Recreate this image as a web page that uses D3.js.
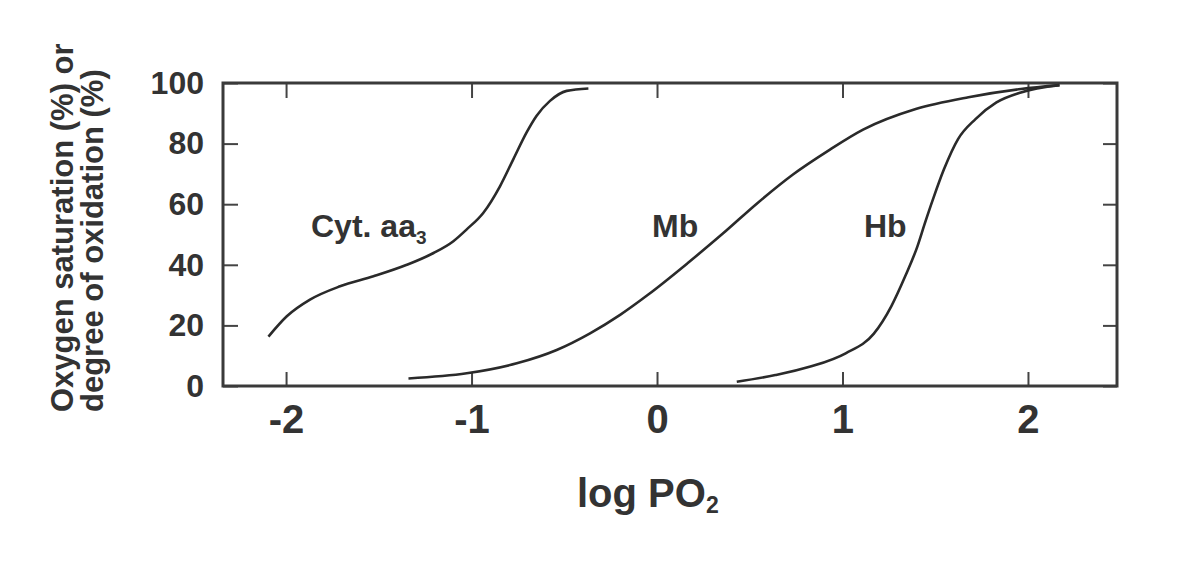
<!doctype html>
<html>
<head>
    <meta charset="utf-8">
    <style>
        body { margin: 0; background: #fff; }
        text { font-family: "Liberation Sans", Arial, sans-serif; font-weight: bold; fill: #333; }
        .curve { fill: none; stroke: #2a2a2a; stroke-width: 2.6; }
        .tick line { stroke: #444; stroke-width: 2; }
    </style>
    <script src="https://d3js.org/d3.v7.min.js"></script>
</head>
<body>
<svg width="1200" height="564"></svg>
<script>
// curves (log PO2 vs % saturation)
var cytX = [-2.095, -1.996, -1.871, -1.709, -1.529, -1.349, -1.205, -1.098, -1.026, -0.936, -0.846, -0.775, -0.703, -0.649, -0.577, -0.487, -0.370];
var cytY = [16.3, 23, 28.5, 32.9, 36.2, 40, 43.9, 47.8, 51.7, 57.2, 66, 74.8, 83.7, 89.2, 94.1, 97.4, 98.2];

var mbX = [-1.34, -1.026, -0.756, -0.541, -0.361, -0.199, -0.047, 0.166, 0.355, 0.544, 0.733, 0.922, 1.111, 1.395, 1.679, 1.962, 2.17];
var mbY = [2.5, 4.2, 7.5, 11.9, 17.4, 23.5, 30.2, 40.6, 50.3, 60.5, 69.8, 77.6, 84.6, 91.4, 95.3, 98, 99.3];

var hbX = [0.43, 0.638, 0.827, 1.017, 1.168, 1.263, 1.338, 1.404, 1.443, 1.49, 1.547, 1.623, 1.717, 1.83, 1.962, 2.17];
var hbY = [1.4, 3.6, 6.4, 10.8, 17.2, 26.3, 36.2, 46.1, 53.5, 62, 71.5, 81.5, 88.1, 93.6, 96.9, 99.3];

var xTicks = [-2, -1, 0, 1, 2];
var yTicks = [0, 20, 40, 60, 80, 100];

var svg = d3.select("svg");

var xScale = d3.scaleLinear().domain([-2.34, 2.48]).range([223, 1117]),
    yScale = d3.scaleLinear().domain([0, 100]).range([386, 83]);

function zip(xs, ys) {
    return xs.map(function(d, i) { return [d, ys[i]]; });
}

var line = d3.line()
    .x(function(d) { return xScale(d[0]); })
    .y(function(d) { return yScale(d[1]); })
    .curve(d3.curveMonotoneX);

var plain = function(d) { return String(d); };

// axes, ticks pointing inward
svg.append("g")
    .attr("transform", "translate(0," + yScale(0) + ")")
    .call(d3.axisBottom(xScale).tickValues(xTicks).tickFormat(plain).tickSize(-14).tickSizeOuter(0).tickPadding(19))
    .call(function(g) { g.select(".domain").remove(); })
    .selectAll("text").style("font-size", "40px").attr("fill", "#333");

svg.append("g")
    .attr("transform", "translate(0," + yScale(100) + ")")
    .call(d3.axisTop(xScale).tickValues(xTicks).tickSize(-15).tickSizeOuter(0).tickFormat(""))
    .call(function(g) { g.select(".domain").remove(); });

svg.append("g")
    .attr("transform", "translate(" + xScale.range()[0] + ",0)")
    .call(d3.axisLeft(yScale).tickValues(yTicks).tickFormat(plain).tickSize(-15).tickSizeOuter(0).tickPadding(19))
    .call(function(g) { g.select(".domain").remove(); })
    .selectAll("text").style("font-size", "32px").attr("fill", "#333");

svg.append("g")
    .attr("transform", "translate(" + xScale.range()[1] + ",0)")
    .call(d3.axisRight(yScale).tickValues(yTicks).tickSize(-14).tickSizeOuter(0).tickFormat(""))
    .call(function(g) { g.select(".domain").remove(); });

// frame
svg.append("rect")
    .attr("x", xScale.range()[0])
    .attr("y", yScale.range()[1])
    .attr("width", xScale.range()[1] - xScale.range()[0])
    .attr("height", yScale.range()[0] - yScale.range()[1])
    .attr("fill", "none")
    .attr("stroke", "#3a3a3a")
    .attr("stroke-width", 3);

// curves
[zip(cytX, cytY), zip(mbX, mbY), zip(hbX, hbY)].forEach(function(pts) {
    svg.append("path").attr("class", "curve").attr("d", line(pts));
});

// curve labels
var cyt = svg.append("text").attr("x", 311).attr("y", 237).style("font-size", "32px");
cyt.append("tspan").text("Cyt. aa");
cyt.append("tspan").attr("dy", 7).style("font-size", "19px").text("3");

svg.append("text").attr("x", 652).attr("y", 237).style("font-size", "32px").text("Mb");
svg.append("text").attr("x", 864).attr("y", 237).style("font-size", "32px").text("Hb");

// x title
var xt = svg.append("text").attr("x", 577).attr("y", 507).style("font-size", "40px");
xt.append("tspan").text("log PO");
xt.append("tspan").attr("dy", 6).style("font-size", "23px").text("2");

// y title, two lines reading upward
var yt = svg.append("text").attr("transform", "translate(73,412) rotate(-90)").style("font-size", "31px");
yt.append("tspan").attr("x", 0).attr("y", 0).text("Oxygen saturation (%) or");
yt.append("tspan").attr("x", 0).attr("y", 30).text("degree of oxidation (%)");
</script>
</body>
</html>
